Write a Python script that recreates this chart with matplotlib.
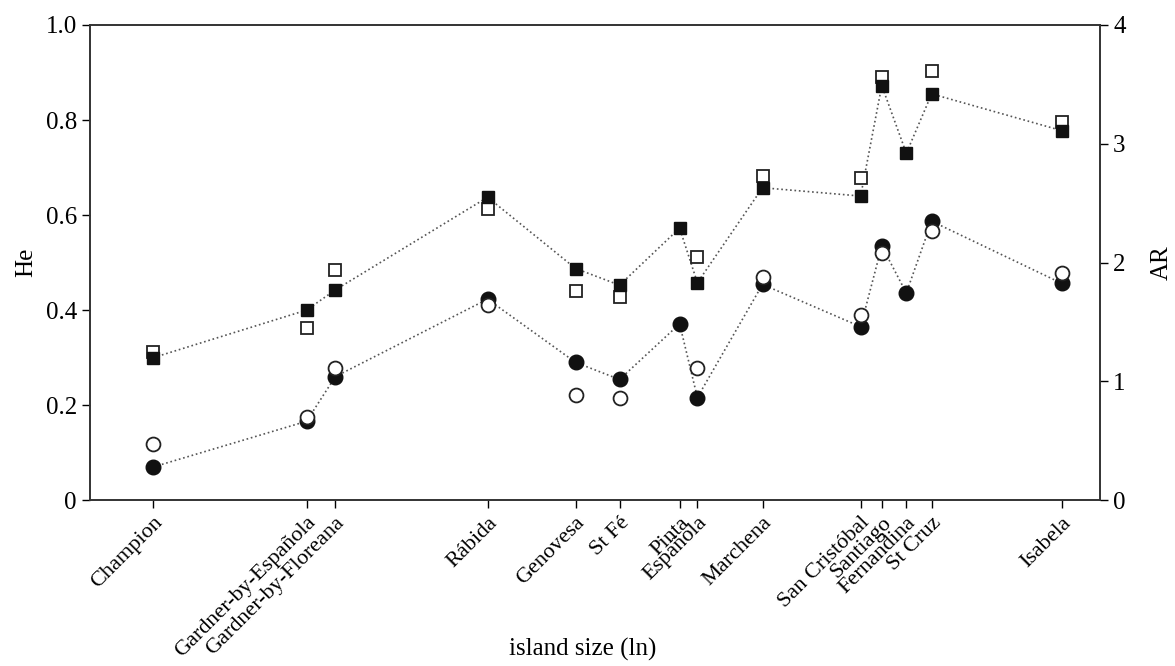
import numpy as np
import matplotlib.pyplot as plt

plt.rcParams['font.family'] = ['Liberation Serif', 'DejaVu Serif']

# island names and ln(island size)
islands = ['Champion', 'Gardner-by-Española', 'Gardner-by-Floreana', 'Rábida',
           'Genovesa', 'St Fé', 'Pinta', 'Española', 'Marchena', 'San Cristóbal',
           'Santiago', 'Fernandina', 'St Cruz', 'Isabela']
ln_size = [-2.30, -0.49, -0.15, 1.65, 2.69, 3.21, 3.92, 4.13, 4.90,
           6.06, 6.31, 6.60, 6.90, 8.44]

# He (left axis)
he_filled = [0.070, 0.166, 0.260, 0.423, 0.290, 0.254, 0.371, 0.216, 0.454,
             0.365, 0.535, 0.436, 0.587, 0.456]
he_open = [0.118, 0.175, 0.278, 0.411, 0.221, 0.216, np.nan, 0.279, 0.470,
           0.389, 0.521, np.nan, 0.566, 0.477]

# AR (right axis)
ar_filled = [1.20, 1.60, 1.77, 2.55, 1.95, 1.81, 2.29, 1.83, 2.63,
             2.56, 3.49, 2.92, 3.42, 3.11]
ar_open = [1.25, 1.45, 1.94, 2.45, 1.76, 1.71, np.nan, 2.05, 2.73,
           2.71, 3.56, np.nan, 3.61, 3.18]

fig = plt.figure(figsize=(11.75, 6.66), dpi=100)
ax = fig.add_axes([0.0766, 0.249, 0.8596, 0.7135])
ax2 = ax.twinx()

line_kw = dict(color='#555555', linestyle=':', linewidth=1.2)

ax.plot(ln_size, he_filled, zorder=2, **line_kw)
ax.plot(ln_size, he_filled, 'o', color='#111111', markersize=10.5, zorder=3)
ax.plot(ln_size, he_open, 'o', markerfacecolor='white', markeredgecolor='#222222',
        markeredgewidth=1.3, markersize=10, zorder=4)

ax2.plot(ln_size, ar_filled, zorder=2, **line_kw)
ax2.plot(ln_size, ar_open, 's', markerfacecolor='white', markeredgecolor='#222222',
         markeredgewidth=1.3, markersize=9, zorder=3)
ax2.plot(ln_size, ar_filled, 's', color='#111111', markersize=9, zorder=4)

ax.set_xlim(-3.05, 8.89)
ax.set_ylim(0, 1.0)
ax2.set_ylim(0, 4)

ax.set_yticks([0, 0.2, 0.4, 0.6, 0.8, 1.0])
ax.set_yticklabels(['0', '0.2', '0.4', '0.6', '0.8', '1.0'])
ax2.set_yticks([0, 1, 2, 3, 4])
ax2.set_yticklabels(['0', '1', '2', '3', '4'])

ax.set_xticks(ln_size)
ax.set_xticklabels(islands, rotation=45, ha='right', rotation_mode='anchor')

ax.tick_params(axis='y', direction='out', length=6, labelsize=18, width=1)
ax2.tick_params(axis='y', direction='out', length=6, labelsize=18, width=1)
ax.tick_params(axis='x', direction='out', length=6, labelsize=16, width=1)

for a in (ax, ax2):
    for s in a.spines.values():
        s.set_linewidth(1.2)
        s.set_color('#333333')

ax.set_ylabel('He', fontsize=18)
ax.yaxis.set_label_coords(-0.052, 0.5)
ax2.set_ylabel('AR', fontsize=18)
ax2.yaxis.set_label_coords(1.05, 0.5)
ax.set_xlabel('island size (ln)', fontsize=18)
ax.xaxis.set_label_coords(0.488, -0.29)

fig.savefig('out.png', dpi=100)
